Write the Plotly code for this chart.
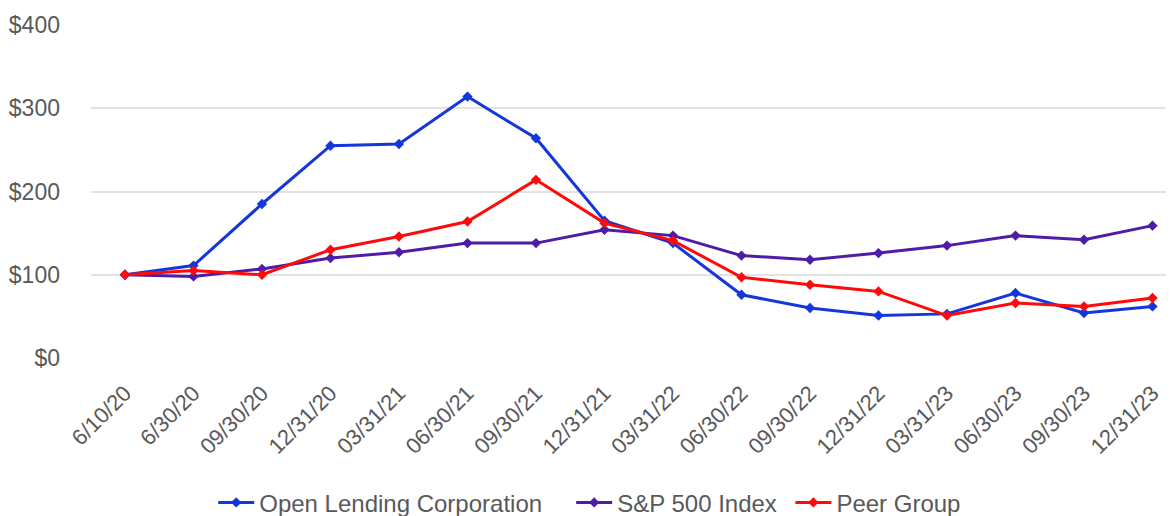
import plotly.graph_objects as go

dates = ["6/10/20", "6/30/20", "09/30/20", "12/31/20", "03/31/21", "06/30/21", "09/30/21", "12/31/21",
         "03/31/22", "06/30/22", "09/30/22", "12/31/22", "03/31/23", "06/30/23", "09/30/23", "12/31/23"]
open_lending = [100, 111, 185, 255, 257, 314, 264, 165, 138, 76, 60, 51, 53, 78, 54, 62]
sp500 = [100, 98, 107, 120, 127, 138, 138, 154, 147, 123, 118, 126, 135, 147, 142, 159]
peer_group = [100, 105, 100, 130, 146, 164, 214, 162, 141, 97, 88, 80, 51, 66, 62, 72]
y_ticks = [0, 100, 200, 300, 400]
y_labels = ["$0", "$100", "$200", "$300", "$400"]

series = [
    ("Open Lending Corporation", open_lending, "#1536DA", "legend", 0.176),
    ("S&P 500 Index", sp500, "#4E1CA8", "legend2", 0.483),
    ("Peer Group", peer_group, "#FF0A0A", "legend3", 0.671),
]

font_col = "#595959"
fig = go.Figure()
legends = {}
for name, vals, col, lg, lx in series:
    fig.add_trace(go.Scatter(
        x=dates, y=vals, name=name, mode="lines+markers",
        line=dict(color=col, width=3),
        marker=dict(symbol="diamond", size=8, color=col),
        legend=lg,
    ))
    legends[lg] = dict(orientation="h", x=lx, xanchor="left", xref="container",
                       y=0.026, yanchor="middle", yref="container",
                       font=dict(size=24, color=font_col), itemwidth=36,
                       bgcolor="rgba(0,0,0,0)")

fig.update_layout(
    width=1166, height=508,
    paper_bgcolor="white", plot_bgcolor="white",
    margin=dict(l=83, r=0, t=17, b=158),
    font=dict(family="Liberation Sans, Arial, sans-serif", color=font_col),
    showlegend=True,
    **legends,
)
fig.update_xaxes(
    type="category", range=[-0.496, 15.314], tickangle=-45, automargin=False,
    tickfont=dict(size=22, color=font_col), showgrid=False, showline=False,
    ticks="", zeroline=False, ticklabelstandoff=17,
)
fig.update_yaxes(
    range=[0, 400], tickvals=y_ticks, ticktext=y_labels, automargin=False,
    tickfont=dict(size=23, color=font_col), showgrid=True, gridcolor="#E3E3E3",
    gridwidth=2, zeroline=False, showline=False, ticks="", ticklabelstandoff=30,
)

fig.write_html("out.html")
